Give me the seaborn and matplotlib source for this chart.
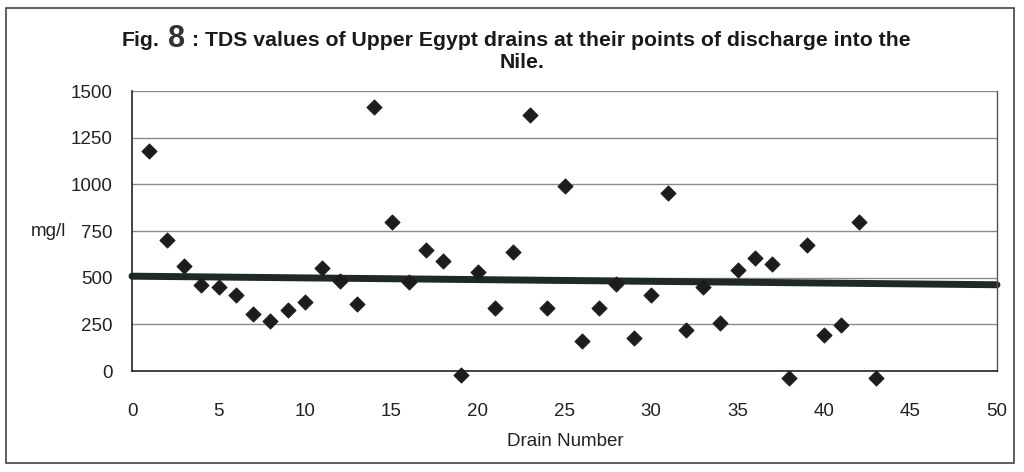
import numpy as np
import pandas as pd
import matplotlib
matplotlib.use("Agg")
import matplotlib.pyplot as plt
import seaborn as sns
from matplotlib.patches import Rectangle

# drain numbers and TDS values (mg/l)
drain = list(range(1, 44))
tds = [1180, 700, 565, 460, 450, 405, 305, 270, 325, 370,
       550, 480, 360, 1415, 800, 475, 650, 590, -20, 530,
       340, 640, 1370, 340, 990, 160, 340, 465, 175, 405,
       955, 220, 450, 255, 540, 605, 575, -35, 675, 195,
       245, 800, -40]

# reference line
line_x = [0, 50]
line_y = [508, 462]

y_ticks = [0, 250, 500, 750, 1000, 1250, 1500]
x_ticks = list(range(0, 55, 5))


def main():
    sns.set_style("white")
    plt.rcParams['font.family'] = ['Liberation Sans Narrow', 'Liberation Sans', 'DejaVu Sans']

    df = pd.DataFrame({"drain": drain, "tds": tds})
    ref = pd.DataFrame({"x": line_x, "y": line_y})

    fig = plt.figure(figsize=(10.24, 4.72), dpi=100)
    fig.patch.set_facecolor("white")
    ax = fig.add_axes([132 / 1024, 1 - 371 / 472, (997 - 132) / 1024, (371 - 91) / 472])

    # horizontal grid
    for v in y_ticks[1:]:
        ax.axhline(v, color="#8a8a8a", lw=1.0, zorder=0)

    sns.lineplot(data=ref, x="x", y="y", ax=ax, color="#1e2a22", lw=5,
                 zorder=2, clip_on=False)
    sns.scatterplot(data=df, x="drain", y="tds", ax=ax, marker="D", s=60,
                    color="#1c1c1c", edgecolor="#1c1c1c", zorder=3, clip_on=False)

    ax.set_xlim(0, 50)
    ax.set_ylim(0, 1500)
    ax.set_xticks(x_ticks)
    ax.set_yticks(y_ticks)
    ax.tick_params(axis="both", labelsize=13.5, length=5, width=1, direction="out",
                   colors="#222222", pad=9)
    ax.tick_params(axis="x", pad=18)
    ax.set_xlabel("")
    ax.set_ylabel("")
    for side in ["left", "bottom"]:
        ax.spines[side].set_color("#222222")
        ax.spines[side].set_linewidth(1.2)
    ax.spines["right"].set_color("#555555")
    ax.spines["right"].set_linewidth(1.0)
    ax.spines["top"].set_visible(False)

    fig.text(48 / 1024, 1 - 232 / 472, "mg/l", fontsize=13.5, ha="center", va="center",
             color="#222222")
    fig.text(565 / 1024, 1 - 441 / 472, "Drain Number", fontsize=13.5, ha="center",
             va="center", color="#222222")

    # title
    fig.text(122 / 1024, 1 - 41 / 472, "Fig.", fontsize=15.3, fontweight="bold",
             ha="left", va="center", color="#1a1a1a")
    fig.text(177 / 1024, 1 - 39 / 472, "8", fontsize=22, fontweight="bold",
             ha="center", va="center", color="#333333")
    fig.text(192 / 1024, 1 - 41 / 472,
             ": TDS values of Upper Egypt drains at their points of discharge into the",
             fontsize=15.3, fontweight="bold", ha="left", va="center", color="#1a1a1a")
    fig.text(522 / 1024, 1 - 63 / 472, "Nile.", fontsize=15.3, fontweight="bold",
             ha="center", va="center", color="#1a1a1a")

    # outer frame
    fig.patches.append(Rectangle((6 / 1024, 1 - 463 / 472), 1008 / 1024, 455 / 472,
                                 transform=fig.transFigure, fill=False,
                                 edgecolor="#444444", lw=1.2))

    fig.savefig("out.png", dpi=100)
    plt.close(fig)


if __name__ == '__main__':
    main()
